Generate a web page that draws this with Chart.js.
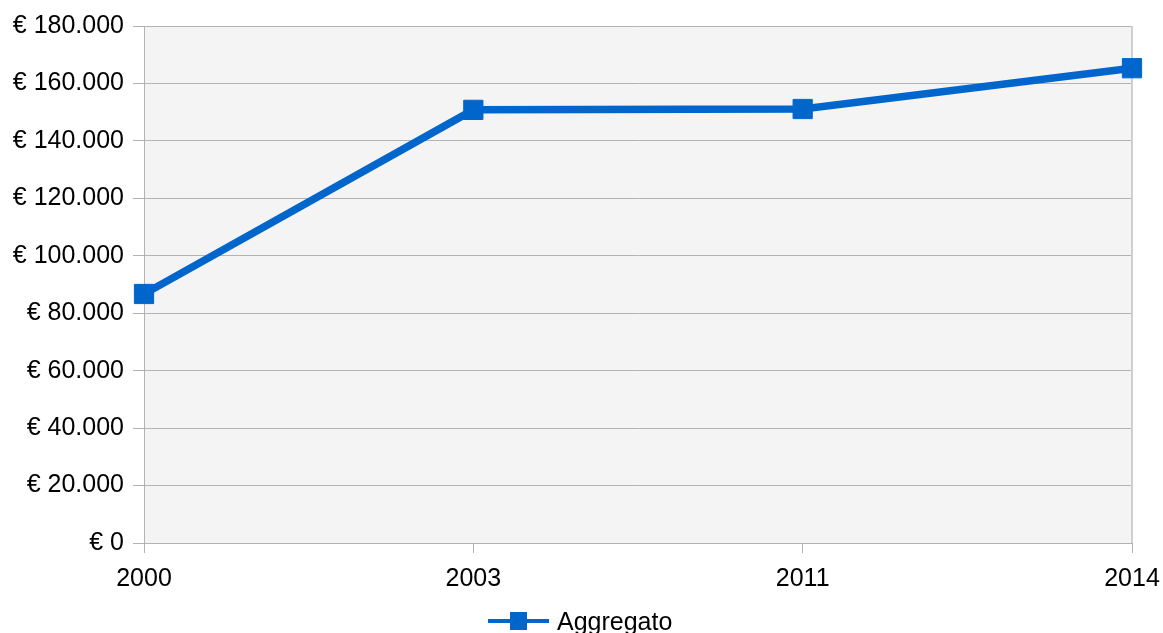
<!DOCTYPE html>
<html>
<head>
<meta charset="utf-8">
<script src="https://cdn.jsdelivr.net/npm/chart.js@4/dist/chart.umd.min.js"></script>
<style>
  html, body { margin: 0; padding: 0; background: #fff; }
  #wrap { width: 1163px; height: 633px; }
</style>
</head>
<body>
<div id="wrap"><canvas id="grafico" width="1163" height="633"></canvas></div>
<script>
const anni = ['2000', '2003', '2011', '2014'];
const aggregato = [86700, 150800, 151100, 165300];
const etichettaSerie = 'Aggregato';

const FONT = '"Liberation Sans", Arial, sans-serif';
const BLU = '#0066cc';

const formatEuro = v => '€ ' + String(v).replace(/\B(?=(\d{3})+(?!\d))/g, '.');

// sfondo area grafico + bordo destro + legenda disegnata a mano
const sfondoPlugin = {
    id: 'sfondo',
    beforeDraw(chart) {
        const { ctx, chartArea: a } = chart;
        ctx.save();
        ctx.fillStyle = '#f4f4f4';
        ctx.fillRect(a.left, a.top, a.right - a.left, a.bottom - a.top);
        ctx.restore();
    },
    beforeDatasetsDraw(chart) {
        const { ctx, chartArea: a } = chart;
        ctx.save();
        ctx.strokeStyle = '#cfcfcf';
        ctx.lineWidth = 2;
        ctx.beginPath();
        ctx.moveTo(a.right, a.top);
        ctx.lineTo(a.right, a.bottom);
        ctx.stroke();
        ctx.restore();
    },
    afterDraw(chart) {
        const { ctx } = chart;
        ctx.save();
        // legenda
        const y = 621;
        ctx.strokeStyle = BLU;
        ctx.lineWidth = 4;
        ctx.beginPath();
        ctx.moveTo(488, y);
        ctx.lineTo(549, y);
        ctx.stroke();
        ctx.fillStyle = BLU;
        ctx.fillRect(510, y - 9, 17, 18);
        ctx.fillStyle = '#000';
        ctx.font = '25px ' + FONT;
        ctx.textBaseline = 'alphabetic';
        ctx.fillText(chart.data.datasets[0].label, 557, 630);
        ctx.restore();
    }
};

new Chart(document.getElementById('grafico'), {
    type: 'line',
    data: {
        labels: anni,
        datasets: [{
            label: etichettaSerie,
            data: aggregato,
            borderColor: BLU,
            backgroundColor: BLU,
            borderWidth: 7.5,
            pointStyle: 'rect',
            pointRadius: 13.6,
            pointBorderWidth: 1,
            pointHoverRadius: 13.6,
            tension: 0
        }]
    },
    options: {
        responsive: false,
        animation: false,
        layout: { padding: { top: 26, right: 31, left: 0, bottom: 0 } },
        plugins: {
            legend: { display: false },
            tooltip: { enabled: false }
        },
        scales: {
            x: {
                offset: false,
                grid: {
                    drawOnChartArea: false,
                    drawTicks: true,
                    tickLength: 10,
                    color: '#b3b3b3'
                },
                border: { display: true, color: '#b3b3b3', width: 1 },
                ticks: {
                    color: '#000',
                    font: { family: FONT, size: 25 },
                    padding: 11,
                    maxRotation: 0,
                    autoSkip: false
                },
                afterFit(scale) {
                    scale.height = 90;
                    scale.paddingLeft = 0;
                    scale.paddingRight = 0;
                }
            },
            y: {
                min: 0,
                max: 180000,
                grid: {
                    color: '#b3b3b3',
                    tickLength: 11,
                    lineWidth: 1
                },
                border: { display: true, color: '#b3b3b3', width: 1 },
                ticks: {
                    stepSize: 20000,
                    color: '#000',
                    font: { family: FONT, size: 25 },
                    padding: 9,
                    callback: v => formatEuro(v)
                },
                afterFit(scale) {
                    scale.width = 144;
                    scale.paddingTop = 0;
                    scale.paddingBottom = 0;
                }
            }
        }
    },
    plugins: [sfondoPlugin]
});
</script>
</body>
</html>
